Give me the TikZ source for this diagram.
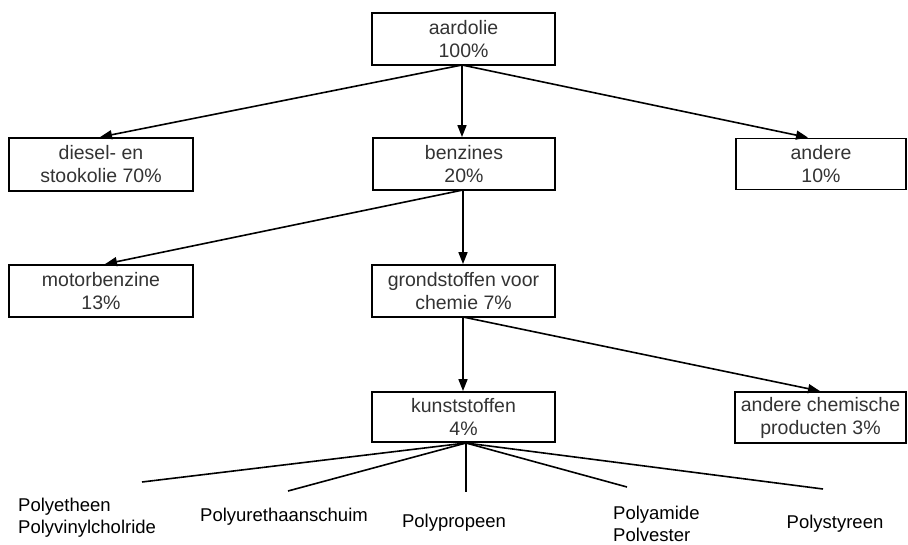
\documentclass[tikz,border=0pt]{standalone}
\usepackage{fontspec}
\setmainfont{Liberation Sans}
\usetikzlibrary{arrows.meta}
\begin{document}
\begin{tikzpicture}[x=1pt,y=-1pt,
  boxnode/.style={draw=black,line width=1.8pt,align=center,inner sep=0pt,
    font=\fontsize{19.5}{23}\selectfont,text=black!80},
  arr/.style={line width=1.6pt,-{Triangle[length=12pt,width=9pt]}},
  ln/.style={line width=1.6pt},
  lbl/.style={font=\fontsize{18.5}{22}\selectfont,inner sep=0pt}]
\useasboundingbox (0,0) rectangle (908,545);
\node[boxnode,minimum width=183pt,minimum height=52pt] (aard) at (463.5,39) {aardolie\\100\%};
\node[boxnode,minimum width=184pt,minimum height=53pt] (dies) at (101,164.5) {diesel- en\\stookolie 70\%};
\node[boxnode,minimum width=182pt,minimum height=52pt] (benz) at (464,164) {benzines\\20\%};
\node[boxnode,minimum width=170pt,minimum height=51pt] (and) at (821,164) {andere\\10\%};
\node[boxnode,minimum width=184pt,minimum height=52pt] (motor) at (101,291) {motorbenzine\\13\%};
\node[boxnode,minimum width=183pt,minimum height=52pt] (grond) at (463.5,291) {grondstoffen voor\\chemie 7\%};
\node[boxnode,minimum width=183pt,minimum height=50pt] (kunst) at (463.5,417) {kunststoffen\\4\%};
\node[boxnode,minimum width=171pt,minimum height=51pt] (andch) at (820.5,417.5) {andere chemische\\producten 3\%};
% connectors
\coordinate (aO) at (462,65);
\coordinate (bO) at (463,190);
\coordinate (gO) at (463,317);
\coordinate (kO) at (466,443);
\draw[arr] (aO) -- (dies.north -| 100,0);
\draw[arr] (aO) -- (benz.north -| 462,0);
\draw[arr] (aO) -- (and.north -| 808,0);
\draw[arr] (bO) -- (motor.north -| 105,0);
\draw[arr] (bO) -- (grond.north -| 463,0);
\draw[arr] (gO) -- (kunst.north -| 463,0);
\draw[arr] (gO) -- (andch.north -| 820,0);
% plastics
\coordinate (p1) at (142,482);
\coordinate (p2) at (288,491);
\coordinate (p3) at (466,492);
\coordinate (p4) at (627,487);
\coordinate (p5) at (823,489);
\draw[ln] (kO) -- (p1);
\draw[ln] (kO) -- (p2);
\draw[ln] (kO) -- (p3);
\draw[ln] (kO) -- (p4);
\draw[ln] (kO) -- (p5);
\node[lbl,anchor=west,align=left] (pe) at (18,518) {Polyetheen\\Polyvinylcholride};
\node[lbl] (pu) at (284,517) {Polyurethaanschuim};
\node[lbl] (pp) at (454,523) {Polypropeen};
\node[lbl,anchor=west,align=left] (pa) at (613,524) {Polyamide\\Polvester};
\node[lbl] (ps) at (835,524) {Polystyreen};
\end{tikzpicture}
\end{document}
